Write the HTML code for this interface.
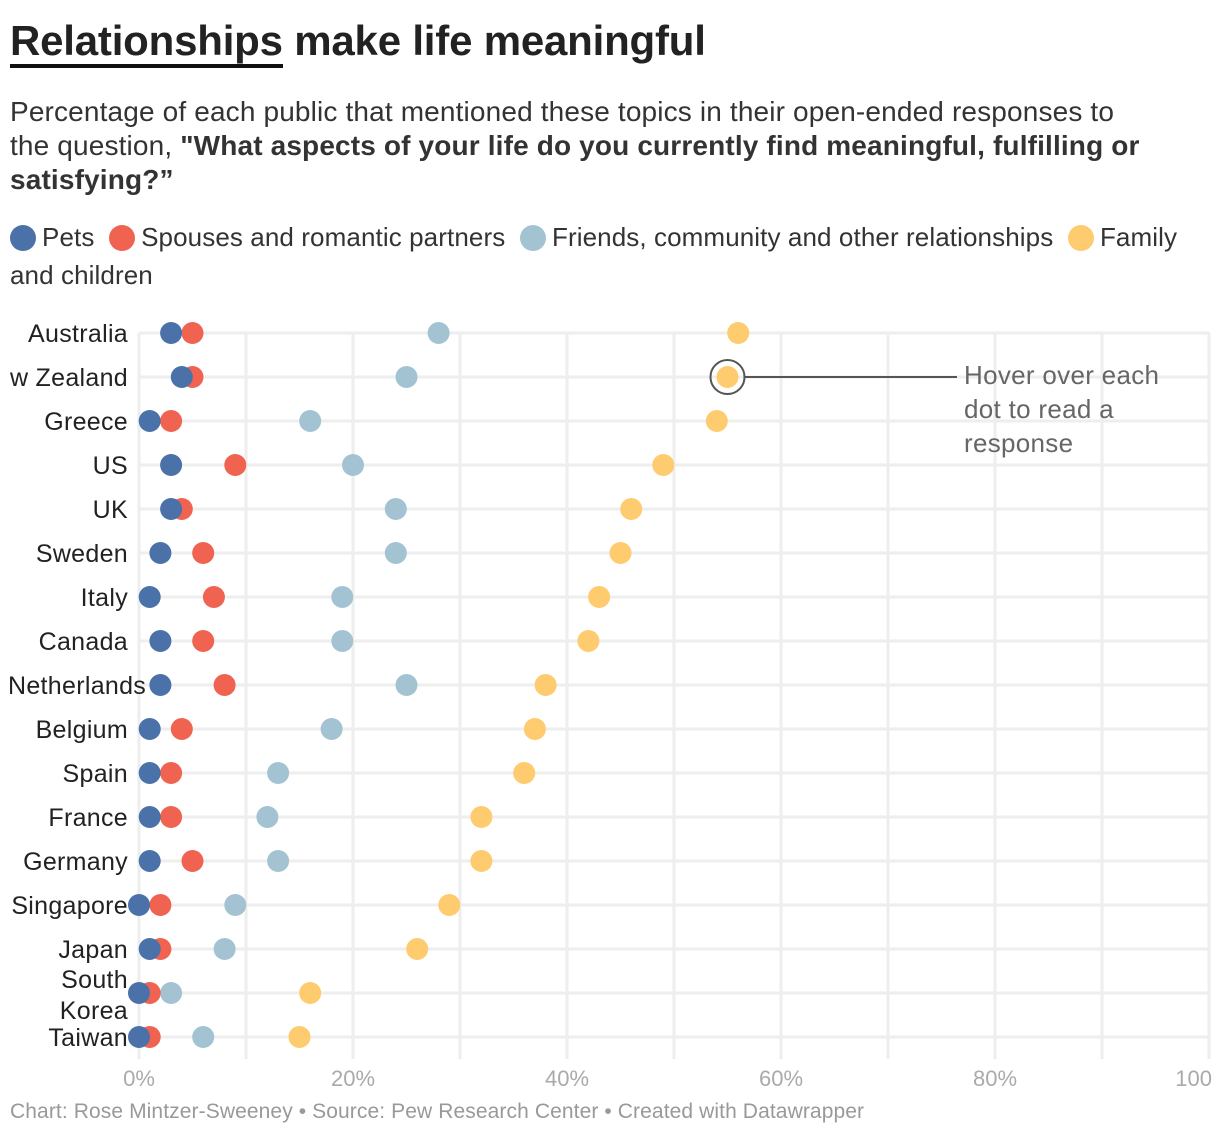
<!DOCTYPE html>
<html><head><meta charset="utf-8"><style>
body{margin:0;background:#fff;width:1220px;height:1138px;overflow:hidden;font-family:"Liberation Sans",sans-serif;color:#222}
.t{position:absolute;left:10px;top:17px;font-size:42px;font-weight:bold;letter-spacing:-0.2px}
.t u{text-decoration:none;border-bottom:4px solid #111}
.s{position:absolute;left:10px;top:95px;width:1150px;font-size:28px;line-height:34px;color:#333;letter-spacing:0.15px}
.lg{position:absolute;left:10px;top:218px;width:1200px;font-size:26px;line-height:38px;color:#333;letter-spacing:0.1px}
.lg span.d{display:inline-block;width:26px;height:26px;border-radius:50%;vertical-align:-5px;margin-right:6px}
.f{position:absolute;left:10px;top:1100px;font-size:21px;color:#999;letter-spacing:0.1px}
</style></head><body>
<div class="t"><u>Relationships</u> make life meaningful</div>
<div class="s">Percentage of each public that mentioned these topics in their open-ended responses to the question, <b>"What aspects of your life do you currently find meaningful, fulfilling or satisfying?”</b></div>
<div class="lg"><span><span class="d" style="background:#4a72a8"></span>Pets</span> &nbsp;<span><span class="d" style="background:#ef6350"></span>Spouses and romantic partners</span> &nbsp;<span><span class="d" style="background:#a3c3d3"></span>Friends, community and other relationships</span> &nbsp;<span><span class="d" style="background:#fecb6f"></span>Family and children</span></div>
<svg id="c" width="1220" height="1138" style="position:absolute;left:0;top:0"></svg>
<div class="f">Chart: Rose Mintzer-Sweeney • Source: Pew Research Center • Created with Datawrapper</div>
<script>
const countries=["Australia","New Zealand","Greece","US","UK","Sweden","Italy","Canada","Netherlands","Belgium","Spain","France","Germany","Singapore","Japan","South Korea","Taiwan"];
const pets=[3,4,1,3,3,2,1,2,2,1,1,1,1,0,1,0,0];
const spouses=[5,5,3,9,4,6,7,6,8,4,3,3,5,2,2,1,1];
const friends=[28,25,16,20,24,24,19,19,25,18,13,12,13,9,8,3,6];
const family=[56,55,54,49,46,45,43,42,38,37,36,32,32,29,26,16,15];
const ticks=[0,20,40,60,80,100];
const NS="http://www.w3.org/2000/svg";
const svg=document.getElementById('c');
const x=v=>139+v*10.7, y=i=>333+i*44;
function el(t,a){const e=document.createElementNS(NS,t);for(const k in a)e.setAttribute(k,a[k]);svg.appendChild(e);return e;}
for(let v=0;v<=100;v+=10){const l=el('line',{x1:x(v),x2:x(v),y1:y(0),y2:y(16)+22,stroke:'#eee','stroke-width':3});

}
countries.forEach((c,i)=>{const l=el('line',{x1:x(0),x2:1210,y1:y(i),y2:y(i),stroke:'#eee','stroke-width':3});


let lbl=c,yy=y(i)+9;
if(c==="New Zealand")lbl="w Zealand";
if(c==="South Korea"){const t1=el('text',{x:128,y:y(i)-5,'text-anchor':'end','font-size':25,'letter-spacing':0.3,fill:'#222'});t1.textContent="South";lbl="Korea";yy=y(i)+26;}
const t=el('text',{x:c==="Netherlands"?8:128,y:yy,'text-anchor':c==="Netherlands"?'start':'end','font-size':25,'letter-spacing':0.3,fill:'#222'});t.textContent=lbl;

});
ticks.forEach(v=>{const t=el('text',{x:v==100?1212:x(v),y:1086,'text-anchor':v==100?'end':'middle','font-size':22,fill:'#aaa'});t.textContent=v+(v==100?'':'%');

});
[[family,'#fecb6f','family'],[friends,'#a3c3d3','friends'],[spouses,'#ef6350','spouses'],[pets,'#4a72a8','pets']].forEach(([arr,col,n])=>{
arr.forEach((v,i)=>{const d=el('circle',{cx:x(v),cy:y(i),r:11,fill:col});

});});
const a=el('circle',{cx:x(family[1]),cy:y(1),r:17,fill:'none',stroke:'#555','stroke-width':2});


const al=el('line',{x1:x(family[1])+17,x2:957,y1:y(1),y2:y(1),stroke:'#555','stroke-width':2});


["Hover over each","dot to read a","response"].forEach((s,k)=>{const t=el('text',{x:964,y:384+k*34,'font-size':26,'letter-spacing':0.3,fill:'#666'});t.textContent=s;

});
</script>
</body></html>
